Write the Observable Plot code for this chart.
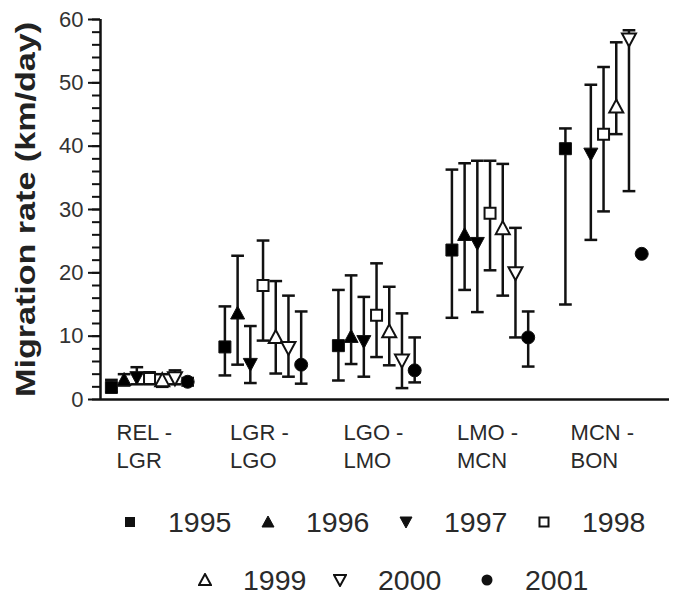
<!DOCTYPE html>
<html><head><meta charset="utf-8">
<script src="https://cdn.jsdelivr.net/npm/d3@7"></script>
<script src="https://cdn.jsdelivr.net/npm/@observablehq/plot@0.6"></script>
<style>
body{margin:0;background:#fff;font-family:"Liberation Sans",Arial,sans-serif;}
#chart{width:675px;}
.legend{width:675px;color:#2a2a2a;font-size:28.5px;padding-top:17px;box-sizing:border-box;}
.row{display:flex;align-items:center;height:50px;}
.item{display:flex;align-items:center;}
.item svg{margin-right:31px;}
.row1{padding-left:123px;}
.row1 .item{width:145px;}
.row2{padding-left:198px;margin-top:8px;}
.row2 .item{width:135px;}
.row2 .item.last{margin-left:12px;}
</style></head><body><div id="chart"></div><div class="legend" id="legend"></div>
<script>
const segments = ["REL -\nLGR", "LGR -\nLGO", "LGO -\nLMO", "LMO -\nMCN", "MCN -\nBON"];
const years = [1995, 1996, 1997, 1998, 1999, 2000, 2001];
const yTicks = [0, 10, 20, 30, 40, 50, 60];

// mean migration rate per segment, for each year
const mean1995 = [1.9, 8.3, 8.5, 23.6, 39.6];
const mean1996 = [3.0, 13.5, 9.8, 25.9, null];
const mean1997 = [3.6, 5.7, 9.3, 24.8, 38.9];
const mean1998 = [3.3, 18.0, 13.3, 29.4, 41.9];
const mean1999 = [2.9, 9.7, 10.6, 26.9, 46.1];
const mean2000 = [3.5, 8.3, 6.3, 20.1, 57.0];
const mean2001 = [2.8, 5.5, 4.6, 9.8, 23.0];

const upper1995 = [3.1, 14.7, 17.3, 36.3, 42.8];
const upper1996 = [4.0, 22.7, 19.6, 37.3, null];
const upper1997 = [5.1, 11.6, 16.2, 37.7, 49.7];
const upper1998 = [4.3, 25.1, 21.5, 37.7, 52.5];
const upper1999 = [4.0, 18.7, 17.8, 37.2, 56.4];
const upper2000 = [4.6, 16.4, 13.6, 27.1, 58.3];
const upper2001 = [3.4, 13.9, 9.8, 13.9, null];

const lower1995 = [1.2, 3.8, 3.0, 12.9, 15.0];
const lower1996 = [2.2, 5.5, 5.6, 17.3, null];
const lower1997 = [2.4, 2.6, 3.6, 13.8, 25.2];
const lower1998 = [2.4, 9.3, 6.7, 20.4, 29.7];
const lower1999 = [2.0, 4.1, 5.4, 16.4, 41.9];
const lower2000 = [2.4, 3.6, 1.8, 9.8, 32.9];
const lower2001 = [2.2, 2.5, 2.7, 5.2, null];

const means = [mean1995, mean1996, mean1997, mean1998, mean1999, mean2000, mean2001];
const uppers = [upper1995, upper1996, upper1997, upper1998, upper1999, upper2000, upper2001];
const lowers = [lower1995, lower1996, lower1997, lower1998, lower1999, lower2000, lower2001];

const yearStep = 0.112; // dodge between years within a segment (x units)
const capW = 0.056;

const rows = [];
years.forEach((yr, yi) => {
  segments.forEach((s, si) => {
    const m = means[yi][si];
    if (m == null) return;
    rows.push({year: yr, yi, seg: s, x: si + (yi - 3) * yearStep, mean: m, lo: lowers[yi][si], hi: uppers[yi][si]});
  });
});
const bars = rows.filter(d => d.lo != null && d.hi != null);

const shapes = {
  square: {draw(c){c.moveTo(-6,-6);c.lineTo(6,-6);c.lineTo(6,6);c.lineTo(-6,6);c.closePath();}},
  hsquare: {draw(c){c.moveTo(-5.5,-5.5);c.lineTo(5.5,-5.5);c.lineTo(5.5,5.5);c.lineTo(-5.5,5.5);c.closePath();}},
  up: {draw(c){c.moveTo(0,-8);c.lineTo(7,5);c.lineTo(-7,5);c.closePath();}},
  down: {draw(c){c.moveTo(0,8);c.lineTo(7,-5);c.lineTo(-7,-5);c.closePath();}},
  circle: {draw(c){c.moveTo(6.5,0);c.arc(0,0,6.5,0,2*Math.PI);}}
};
const yearStyle = {
  1995: {shape: "square", fill: "black"},
  1996: {shape: "up", fill: "black"},
  1997: {shape: "down", fill: "black"},
  1998: {shape: "hsquare", fill: "white"},
  1999: {shape: "up", fill: "white"},
  2000: {shape: "down", fill: "white"},
  2001: {shape: "circle", fill: "black"}
};

const xDomain = [-0.432, 4.581];

const plot = Plot.plot({
  width: 675,
  height: 480,
  marginLeft: 100,
  marginRight: 6,
  marginTop: 19,
  marginBottom: 81,
  style: {fontFamily: '"Liberation Sans", Arial, sans-serif', background: "white"},
  x: {domain: xDomain, axis: null},
  y: {domain: [0, 60]},
  marks: [
    Plot.axisY({ticks: d3.range(0, 61, 2), tickSize: 8, text: null, label: null, strokeWidth: 2, stroke: "#111"}),
    Plot.axisY({ticks: yTicks, tickSize: 12, tickPadding: 5, fontSize: 22, fill: "#333", label: null, strokeWidth: 2, stroke: "#111"}),
    Plot.ruleX([xDomain[0]], {y1: 0, y2: 60, strokeWidth: 2.5, stroke: "#111"}),
    Plot.ruleY([0], {strokeWidth: 2.5, stroke: "#111"}),
    Plot.ruleX(bars, {x: "x", y1: "lo", y2: "hi", strokeWidth: 2.5, stroke: "#111"}),
    Plot.link(bars, {x1: d => d.x - capW, x2: d => d.x + capW, y1: "hi", y2: "hi", strokeWidth: 2.5, stroke: "#111"}),
    Plot.link(bars, {x1: d => d.x - capW, x2: d => d.x + capW, y1: "lo", y2: "lo", strokeWidth: 2.5, stroke: "#111"}),
    ...years.map(yr => Plot.dot(rows.filter(d => d.year === yr), {
      x: "x", y: "mean", symbol: shapes[yearStyle[yr].shape], r: 6,
      fill: yearStyle[yr].fill, stroke: "#111", strokeWidth: yearStyle[yr].fill === "white" ? 2 : 1
    })),
    Plot.text(segments, {x: (d, i) => i, frameAnchor: "bottom", textAnchor: "start", lineAnchor: "top",
      dx: -33, dy: 21, fontSize: 22, lineHeight: 1.25, fill: "#2a2a2a"}),
    Plot.text(["Migration rate (km/day)"], {frameAnchor: "left", dx: -74, rotate: -90, fontWeight: "bold",
      fontSize: 28, textAnchor: "middle", lineAnchor: "middle", fill: "#222", className: "ytitle"})
  ]
});
document.getElementById("chart").appendChild(plot);
const t = plot.querySelector(".ytitle text");
if (t) { t.setAttribute("textLength", "375"); t.setAttribute("lengthAdjust", "spacingAndGlyphs"); }

// legend
const legendPaths = {
  square: '<rect x="2" y="2" width="10" height="10" fill="#111"/>',
  hsquare: '<rect x="2.5" y="2.5" width="9" height="9" fill="white" stroke="#111" stroke-width="2"/>',
  up: '<path d="M7,1 L13,12 L1,12 Z" fill="FILL" stroke="#111" stroke-width="STW"/>',
  down: '<path d="M7,13 L13,2 L1,2 Z" fill="FILL" stroke="#111" stroke-width="STW"/>',
  circle: '<circle cx="7" cy="7" r="5.5" fill="#111"/>'
};
function sw(yr) {
  const st = yearStyle[yr];
  const p = legendPaths[st.shape].replace("FILL", st.fill === "white" ? "white" : "#111").replace("STW", st.fill === "white" ? "2" : "1");
  return `<div class="item${yr === 2001 ? " last" : ""}"><svg width="14" height="14" viewBox="0 0 14 14">${p}</svg><span>${yr}</span></div>`;
}
document.getElementById("legend").innerHTML =
  `<div class="row row1">${years.slice(0, 4).map(sw).join("")}</div>` +
  `<div class="row row2">${years.slice(4).map(sw).join("")}</div>`;
</script>
</body></html>
